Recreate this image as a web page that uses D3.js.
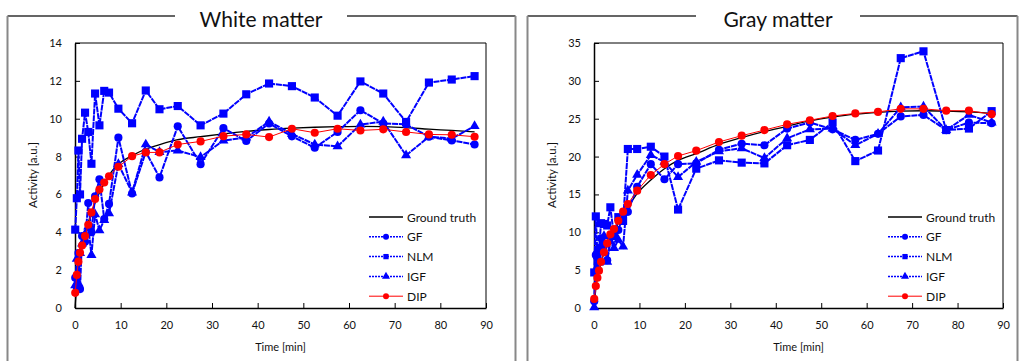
<!DOCTYPE html>
<html>
<head>
<meta charset="utf-8">
<script src="https://cdn.jsdelivr.net/npm/d3@7"></script>
<style>
  body { margin: 0; background: #fff; }
  text { font-family: Lato, "Open Sans", sans-serif; fill: #111; }
</style>
</head>
<body>
<svg id="chart" width="1020" height="361"></svg>
<script>
// sample times [min], shared by all noisy series
const times = [0.05, 0.4, 0.75, 1.1, 1.55, 2.2, 2.9, 3.6, 4.4, 5.35, 6.4, 7.45, 9.5, 12.5, 15.5, 18.5,
  22.5, 27.5, 32.5, 37.5, 42.5, 47.5, 52.5, 57.5, 62.5, 67.5, 72.5, 77.5, 82.5, 87.5];
// times of the ground truth curve
const truthTimes = [0, 0.5, 1, 2, 3, 4, 5, 6, 7, 8, 9.5, 12.5, 15.5, 18.5, 22.5, 27.5, 32.5, 37.5,
  42.5, 47.5, 52.5, 57.5, 62.5, 67.5, 72.5, 77.5, 82.5, 87.5];

// White matter
const wmTruth = [0, 1.5, 2.5, 3.7, 4.6, 5.3, 5.9, 6.4, 6.8, 7.2, 7.6, 8.05, 8.4, 8.63, 8.89, 9.05, 9.2,
  9.33, 9.43, 9.5, 9.55, 9.58, 9.6, 9.58, 9.53, 9.45, 9.38, 9.3];
const wmGF = [1.6, 1.1, 2.9, 1.0, 3.8, 3.5, 5.55, 4.0, 5.9, 6.8, 4.7, 5.5, 9.0, 6.05, 8.25, 6.9, 9.6,
  7.6, 9.5, 8.82, 9.75, 9.07, 8.47, 9.3, 10.45, 9.75, 9.7, 9.05, 8.85, 8.64];
const wmNLM = [4.14, 5.8, 8.32, 6.0, 8.94, 10.32, 9.3, 7.62, 11.33, 9.65, 11.47, 11.38, 10.53, 9.76,
  11.49, 10.5, 10.67, 9.65, 10.27, 11.29, 11.86, 11.72, 11.12, 10.16, 11.97, 11.33, 9.83, 11.91, 12.07, 12.25];
const wmIGF = [1.2, 2.6, 1.3, 2.9, 3.4, 3.9, 4.3, 2.8, 4.95, 4.1, 4.65, 5.0, 7.6, 6.1, 8.64, 8.24, 8.32,
  7.97, 8.85, 9.0, 9.85, 9.2, 8.64, 8.54, 9.69, 9.85, 8.06, 9.05, 8.95, 9.61];
const wmDIP = [0.8, 1.75, 2.45, 2.92, 3.3, 3.8, 4.4, 5.05, 5.76, 6.26, 6.63, 6.96, 7.46, 8.02, 8.22,
  8.22, 8.64, 8.8, 9.08, 9.17, 9.03, 9.47, 9.26, 9.47, 9.38, 9.44, 9.3, 9.17, 9.15, 9.05];

// Gray matter
const gmTruth = [0, 3.0, 4.6, 6.9, 8.4, 9.6, 10.8, 11.9, 12.9, 13.8, 15.1, 16.9, 18.4, 19.5, 20.4, 21.6,
  22.5, 23.3, 24.0, 24.7, 25.2, 25.6, 25.85, 26.0, 26.05, 26.0, 25.9, 25.7];
const gmGF = [0.9, 7.0, 6.6, 7.9, 9.2, 8.3, 6.3, 9.4, 9.6, 10.3, 12.2, 12.7, 16.0, 19.0, 17.0, 19.0,
  19.1, 20.9, 21.7, 21.5, 23.7, 24.5, 23.6, 22.2, 23.0, 25.3, 25.5, 23.5, 24.5, 24.4];
const gmNLM = [4.7, 12.1, 7.0, 7.7, 11.2, 11.1, 10.9, 13.3, 9.5, 12.0, 11.5, 21.0, 21.0, 21.3, 20.0,
  13.0, 18.4, 19.5, 19.2, 19.1, 21.5, 22.2, 24.5, 19.4, 20.8, 33.0, 33.9, 23.5, 23.7, 26.0];
const gmIGF = [0.1, 5.0, 5.2, 6.0, 8.0, 9.5, 6.1, 8.8, 7.9, 9.0, 8.1, 15.5, 17.6, 20.2, 19.3, 17.3,
  19.3, 20.7, 21.1, 19.8, 22.4, 23.6, 23.7, 21.5, 23.0, 26.5, 26.6, 23.5, 25.5, 24.5];
const gmDIP = [1.2, 2.9, 4.0, 4.93, 6.1, 7.35, 8.54, 9.73, 10.43, 11.53, 12.72, 13.74, 15.5, 17.57,
  19.0, 20.08, 20.78, 21.93, 22.76, 23.5, 24.26, 24.8, 25.36, 25.7, 25.9, 26.3, 26.3, 26.06, 26.06, 25.6];

const xTicks = [0, 10, 20, 30, 40, 50, 60, 70, 80, 90];
const wmYTicks = [0, 2, 4, 6, 8, 10, 12, 14];
const gmYTicks = [0, 5, 10, 15, 20, 25, 30, 35];
const seriesNames = ["Ground truth", "GF", "NLM", "IGF", "DIP"];

const svg = d3.select("#chart");

function markerPath(shape, size) {
  const sym = { circle: d3.symbolCircle, square: d3.symbolSquare, triangle: d3.symbolTriangle }[shape];
  return d3.symbol().type(sym).size(size)();
}

/**
 * Draw one framed panel with its plot
 */
function drawPanel(p) {
  const g = svg.append("g");

  // outer frame with a gap for the title
  const top = 16;
  g.append("path")
    .attr("d", `M${p.frame[0]},${top}H${p.titleX - p.gap}M${p.titleX + p.gap},${top}H${p.frame[1]}`)
    .attr("stroke", "#333").attr("stroke-width", 1.5).attr("fill", "none");
  g.append("path")
    .attr("d", `M${p.frame[0]},${top}V361M${p.frame[1]},${top}V361`)
    .attr("stroke", "#888").attr("stroke-width", 2).attr("fill", "none");
  g.append("text")
    .attr("x", p.titleX).attr("y", 27)
    .attr("text-anchor", "middle")
    .attr("font-size", 21)
    .text(p.title);

  const x = d3.scaleLinear().domain([0, 90]).range([p.left, p.right]);
  const y = d3.scaleLinear().domain([0, p.yMax]).range([308, 43]);

  // top and right border
  g.append("path")
    .attr("d", `M${p.left},43H${p.right}V308`)
    .attr("stroke", "#000").attr("stroke-width", 1).attr("fill", "none");

  const xAxis = g.append("g")
    .attr("transform", "translate(0,308)")
    .call(d3.axisBottom(x).tickValues(xTicks).tickSizeInner(-5).tickSizeOuter(0).tickPadding(13));
  const yAxis = g.append("g")
    .attr("transform", `translate(${p.left},0)`)
    .call(d3.axisLeft(y).tickValues(p.yTicks).tickSizeInner(-5).tickSizeOuter(0).tickPadding(13));
  [xAxis, yAxis].forEach((a) => {
    a.select(".domain").attr("stroke", "#000").attr("stroke-width", 1.5);
    a.selectAll(".tick line").attr("stroke", "#000");
    a.selectAll("text").attr("font-size", 11).attr("fill", "#111")
      .attr("font-family", "Lato, 'Open Sans', sans-serif");
  });

  g.append("text")
    .attr("x", (p.left + p.right) / 2).attr("y", 351)
    .attr("text-anchor", "middle").attr("font-size", 11)
    .text("Time [min]");
  g.append("text")
    .attr("transform", `translate(${p.left - 38},175) rotate(-90)`)
    .attr("text-anchor", "middle").attr("font-size", 11.5)
    .text("Activity [a.u.]");

  // ground truth
  const truthLine = d3.line().x((d, i) => x(truthTimes[i])).y((d) => y(d)).curve(d3.curveMonotoneX);
  g.append("path").datum(p.truth)
    .attr("d", truthLine)
    .attr("stroke", "#000").attr("stroke-width", 1.3).attr("fill", "none");

  const line = d3.line().x((d, i) => x(times[i])).y((d) => y(d));
  const series = [
    { values: p.gf, color: "#0000ff", width: 2, dash: "6,0.8", shape: "circle", size: 52 },
    { values: p.nlm, color: "#0000ff", width: 2, dash: "6,0.8", shape: "square", size: 66 },
    { values: p.igf, color: "#0000ff", width: 2, dash: "6,0.8", shape: "triangle", size: 44 },
    { values: p.dip, color: "#ff0000", width: 1, dash: null, shape: "circle", size: 52 }
  ];

  series.forEach((s) => {
    g.append("path").datum(s.values)
      .attr("d", line)
      .attr("stroke", s.color).attr("stroke-width", s.width)
      .attr("stroke-dasharray", s.dash).attr("fill", "none");
    g.selectAll(null)
      .data(s.values)
      .enter()
      .append("path")
      .attr("d", markerPath(s.shape, s.size))
      .attr("transform", (d, i) => `translate(${x(times[i])},${y(d)})`)
      .attr("fill", s.color);
  });

  // legend
  const legendStyles = [{ color: "#000", width: 1.3, dash: null, shape: null }].concat(series);
  seriesNames.forEach((name, i) => {
    const ly = 217 + i * 19.8;
    const s = legendStyles[i];
    g.append("line")
      .attr("x1", p.legendX).attr("x2", p.legendX + 34)
      .attr("y1", ly).attr("y2", ly)
      .attr("stroke", s.color).attr("stroke-width", s.dash ? 1.5 : s.width)
      .attr("stroke-dasharray", s.dash ? "2,1" : null);
    if (s.shape) {
      g.append("path")
        .attr("d", markerPath(s.shape, 28))
        .attr("transform", `translate(${p.legendX + 17},${ly})`)
        .attr("fill", s.color);
    }
    g.append("text")
      .attr("x", p.legendX + 38).attr("y", ly + 4.5)
      .attr("font-size", 12)
      .text(name);
  });
}

drawPanel({
  title: "White matter", titleX: 261, gap: 86, frame: [7.5, 515.5],
  left: 75, right: 486, yMax: 14, yTicks: wmYTicks, legendX: 369,
  truth: wmTruth, gf: wmGF, nlm: wmNLM, igf: wmIGF, dip: wmDIP
});

drawPanel({
  title: "Gray matter", titleX: 778, gap: 82, frame: [527.5, 1017.5],
  left: 594, right: 1003, yMax: 35, yTicks: gmYTicks, legendX: 888,
  truth: gmTruth, gf: gmGF, nlm: gmNLM, igf: gmIGF, dip: gmDIP
});
</script>
</body>
</html>
